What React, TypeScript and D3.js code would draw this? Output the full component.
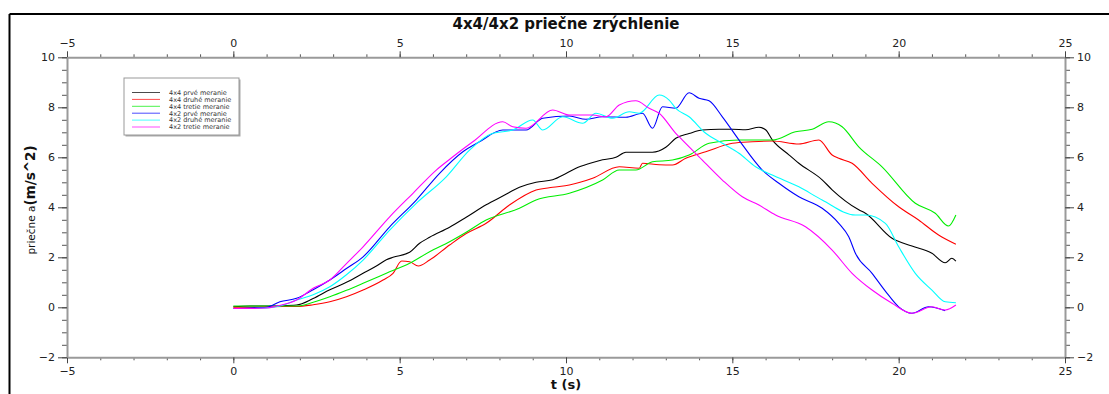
import React, { useEffect, useRef } from "react";
import * as d3 from "d3";

const W = 1109;
const H = 394;

const title = "4x4/4x2 priečne zrýchlenie";
const xLabel = "t (s)";
const yLabelA = "priečne a";
const yLabelB = "(m/s^2)";

const xMajorTicks = [-5, 0, 5, 10, 15, 20, 25];
const yMajorTicks = [-2, 0, 2, 4, 6, 8, 10];

const seriesNames = [
  "4x4 prvé meranie",
  "4x4 druhé meranie",
  "4x4 tretie meranie",
  "4x2 prvé meranie",
  "4x2 druhé meranie",
  "4x2 tretie meranie",
];
const seriesColors = ["#000000", "#ff0000", "#00ee00", "#0000ff", "#00ffff", "#ff00ff"];

const blackT = [0, 0.5, 1.0, 1.4, 1.9, 2.4, 2.9, 3.4, 3.9, 4.3, 4.6, 4.8, 5.3, 5.6, 5.9, 6.5, 7.0, 7.6, 8.1, 8.6, 9.1, 9.6, 10.0, 10.3, 10.7, 11.1, 11.5, 11.8, 12.2, 12.6, 13.0, 13.3, 13.7, 14.1, 14.6, 15.0, 15.4, 15.8, 16.0, 16.2, 16.7, 17.0, 17.7, 18.0, 18.8, 19.0, 19.8, 20.4, 21.0, 21.4, 21.6, 21.72];
const blackA = [0.02, 0.05, 0.05, 0.06, 0.09, 0.35, 0.7, 1.0, 1.36, 1.65, 1.9, 2.0, 2.2, 2.56, 2.8, 3.2, 3.6, 4.1, 4.45, 4.8, 5.0, 5.1, 5.35, 5.56, 5.75, 5.9, 6.0, 6.2, 6.2, 6.2, 6.4, 6.76, 6.95, 7.09, 7.12, 7.12, 7.1, 7.2, 7.1, 6.7, 6.1, 5.76, 5.1, 4.7, 3.9, 3.76, 2.76, 2.45, 2.16, 1.78, 1.96, 1.85];

const redT = [0, 0.5, 1.0, 1.5, 1.9, 2.4, 2.9, 3.4, 3.9, 4.5, 4.8, 5.06, 5.3, 5.56, 5.9, 6.5, 7.0, 7.6, 8.3, 9.1, 9.6, 10.1, 10.8, 11.6, 12.2, 12.3, 12.8, 13.2, 13.6, 14.2, 15.0, 15.6, 16.2, 17.0, 17.6, 18.0, 18.2, 18.6, 19.2, 20.0, 20.6, 21.2, 21.72];
const redA = [0.0, 0.0, 0.02, 0.03, 0.03, 0.1, 0.22, 0.42, 0.69, 1.09, 1.36, 1.85, 1.82, 1.65, 1.89, 2.49, 2.95, 3.36, 4.09, 4.69, 4.8, 4.89, 5.16, 5.62, 5.56, 5.76, 5.7, 5.69, 5.96, 6.22, 6.56, 6.62, 6.65, 6.53, 6.69, 6.09, 5.96, 5.76, 4.96, 4.02, 3.49, 2.89, 2.52];

const greenT = [0, 0.5, 1.0, 1.5, 1.9, 2.4, 2.9, 3.4, 3.9, 4.6, 5.3, 5.9, 6.5, 7.0, 7.6, 8.6, 9.1, 10.1, 11.1, 11.6, 12.1, 12.6, 13.2, 13.7, 14.3, 15.2, 16.2, 16.9, 17.4, 17.9, 18.3, 18.8, 19.5, 20.5, 21.1, 21.5, 21.72];
const greenA = [0.05, 0.05, 0.05, 0.05, 0.05, 0.2, 0.42, 0.68, 0.96, 1.36, 1.76, 2.22, 2.62, 3.0, 3.49, 3.96, 4.29, 4.56, 5.09, 5.49, 5.49, 5.82, 5.89, 6.09, 6.56, 6.69, 6.69, 7.02, 7.12, 7.42, 7.22, 6.42, 5.62, 4.16, 3.76, 3.25, 3.69];

const blueT = [0, 0.5, 1.0, 1.4, 1.9, 2.4, 2.9, 3.4, 3.9, 4.7, 5.5, 6.2, 6.9, 7.4, 8.1, 8.8, 9.3, 10.1, 10.6, 11.1, 11.8, 12.3, 12.6, 12.9, 13.3, 13.7, 14.0, 14.3, 14.7, 15.2, 15.9, 16.4, 17.0, 17.7, 18.2, 18.5, 18.7, 19.2, 19.6, 20.0, 20.4, 20.9, 21.4];
const blueA = [-0.05, -0.03, 0.0, 0.22, 0.36, 0.7, 1.09, 1.55, 2.02, 3.22, 4.29, 5.36, 6.22, 6.62, 7.09, 7.09, 7.56, 7.65, 7.52, 7.62, 7.6, 7.76, 7.16, 8.02, 7.96, 8.58, 8.36, 8.26, 7.62, 6.69, 5.49, 4.96, 4.42, 3.96, 3.36, 2.82, 2.16, 1.36, 0.65, 0.02, -0.24, 0.02, -0.14];

const cyanT = [0, 0.5, 1.0, 1.4, 1.9, 2.4, 2.9, 3.4, 3.9, 4.7, 5.5, 6.4, 7.1, 7.8, 8.4, 9.0, 9.3, 9.9, 10.5, 10.9, 11.4, 11.9, 12.2, 12.8, 13.1, 13.3, 13.7, 14.2, 14.7, 15.2, 15.7, 16.2, 17.0, 17.7, 18.7, 19.0, 19.6, 20.0, 20.5, 21.0, 21.4, 21.72];
const cyanA = [-0.05, -0.05, -0.03, 0.05, 0.29, 0.5, 0.82, 1.3, 1.89, 3.09, 4.16, 5.22, 6.29, 6.96, 7.09, 7.49, 7.09, 7.62, 7.36, 7.76, 7.56, 7.82, 7.76, 8.49, 8.29, 7.96, 7.62, 6.96, 6.56, 6.16, 5.62, 5.29, 4.82, 4.29, 3.69, 3.69, 3.36, 2.42, 1.36, 0.69, 0.22, 0.18];

const magentaT = [0, 0.5, 1.0, 1.3, 1.9, 2.4, 2.9, 3.4, 3.9, 4.7, 5.4, 6.1, 6.6, 7.2, 8.1, 8.4, 8.8, 9.6, 10.1, 10.8, 11.2, 11.6, 12.1, 12.5, 12.8, 13.3, 13.5, 14.0, 14.7, 15.3, 15.8, 16.3, 17.2, 18.0, 18.6, 19.2, 19.8, 20.4, 21.0, 21.4, 21.72];
const magentaA = [-0.05, -0.05, -0.03, 0.05, 0.29, 0.76, 1.09, 1.75, 2.42, 3.62, 4.56, 5.49, 6.02, 6.62, 7.42, 7.22, 7.16, 7.89, 7.69, 7.69, 7.62, 8.09, 8.26, 7.96, 7.76, 6.96, 6.69, 6.02, 5.09, 4.42, 4.09, 3.69, 3.22, 2.29, 1.36, 0.69, 0.16, -0.24, 0.02, -0.11, 0.09];

const seriesT = [blackT, redT, greenT, blueT, cyanT, magentaT];
const seriesA = [blackA, redA, greenA, blueA, cyanA, magentaA];

const PL = 67, PR = 1065, PT = 57.3, PB = 357.3;

export default function App() {
  const ref = useRef<SVGSVGElement>(null);

  useEffect(() => {
    const svg = d3.select(ref.current);
    svg.selectAll("*").remove();

    const x = d3.scaleLinear().domain([-5, 25]).range([PL, PR]);
    const y = d3.scaleLinear().domain([-2, 10]).range([PB, PT]);

    svg.append("rect").attr("x", 0).attr("y", 0).attr("width", W).attr("height", H).attr("fill", "#fff");

    // outer frame
    svg.append("line").attr("x1", 9.5).attr("x2", W + 5).attr("y1", 14).attr("y2", 14).attr("stroke", "#000").attr("stroke-width", 2);
    svg.append("line").attr("x1", 9.5).attr("x2", 9.5).attr("y1", 14).attr("y2", H + 5).attr("stroke", "#000").attr("stroke-width", 2);

    const fontFam = "'DejaVu Sans', Verdana, sans-serif";
    const xMinor = d3.range(-5, 25.01, 1);
    const yMinor = d3.range(-2, 10.01, 0.5);

    const styleAxis = (g: any) => {
      g.select(".domain").attr("stroke", "#9a9a9a").attr("stroke-width", 2);
      g.selectAll(".tick line").attr("stroke", "#444").attr("stroke-width", 1);
      g.selectAll(".tick text").attr("fill", "#222").style("font-family", fontFam).style("font-size", "11px");
    };

    const minorStyle = (g: any) => {
      g.select(".domain").remove();
      g.selectAll(".tick line").attr("stroke", "#555").attr("stroke-width", 1);
      g.selectAll(".tick text").remove();
    };
    svg.append("g").attr("transform", `translate(0,${PT})`).call(d3.axisTop(x).tickValues(xMinor).tickSize(3).tickSizeOuter(0)).call(minorStyle);
    svg.append("g").attr("transform", `translate(0,${PB})`).call(d3.axisBottom(x).tickValues(xMinor).tickSize(3).tickSizeOuter(0)).call(minorStyle);
    svg.append("g").attr("transform", `translate(${PL},0)`).call(d3.axisLeft(y).tickValues(yMinor).tickSize(5).tickSizeOuter(0)).call(minorStyle);
    svg.append("g").attr("transform", `translate(${PR},0)`).call(d3.axisRight(y).tickValues(yMinor).tickSize(5).tickSizeOuter(0)).call(minorStyle);

    svg.append("g").attr("transform", `translate(0,${PT})`).call(d3.axisTop(x).tickValues(xMajorTicks).tickSize(6).tickSizeOuter(0).tickPadding(4)).call(styleAxis);
    svg.append("g").attr("transform", `translate(0,${PB})`).call(d3.axisBottom(x).tickValues(xMajorTicks).tickSize(6).tickSizeOuter(0).tickPadding(4)).call(styleAxis);
    svg.append("g").attr("transform", `translate(${PL},0)`).call(d3.axisLeft(y).tickValues(yMajorTicks).tickSize(9).tickSizeOuter(0).tickPadding(3)).call(styleAxis);
    svg.append("g").attr("transform", `translate(${PR},0)`).call(d3.axisRight(y).tickValues(yMajorTicks).tickSize(9).tickSizeOuter(0).tickPadding(3)).call(styleAxis);

    const line = d3.line<[number, number]>().x((d) => x(d[0])).y((d) => y(d[1])).curve(d3.curveMonotoneX);
    const plot = svg.append("g");
    seriesT.forEach((ts, i) => {
      const pts: [number, number][] = ts.map((t, j) => [t, seriesA[i][j]]);
      plot.append("path").attr("d", line(pts) as string).attr("fill", "none").attr("stroke", seriesColors[i]).attr("stroke-width", 1.1).attr("stroke-linejoin", "round");
    });

    // legend
    const lg = svg.append("g");
    lg.append("rect").attr("x", 125.5).attr("y", 79.5).attr("width", 115).attr("height", 57).attr("fill", "#aaa");
    lg.append("rect").attr("x", 124).attr("y", 78).attr("width", 115).attr("height", 57).attr("fill", "#fff").attr("stroke", "#999").attr("stroke-width", 1);
    seriesNames.forEach((name, i) => {
      const yy = 92.5 + i * 6.9;
      lg.append("line").attr("x1", 132).attr("x2", 160).attr("y1", yy).attr("y2", yy).attr("stroke", seriesColors[i]).attr("stroke-width", 1).attr("opacity", 0.7);
      lg.append("text").attr("x", 169).attr("y", yy + 2.3).text(name).style("font-family", fontFam).style("font-size", "6.5px").attr("fill", "#333");
    });

    svg.append("text").attr("x", 566).attr("y", 29).attr("text-anchor", "middle").text(title)
      .style("font-family", fontFam).style("font-size", "15px").style("font-weight", "bold").attr("fill", "#111");
    svg.append("text").attr("x", 566).attr("y", 389).attr("text-anchor", "middle").text(xLabel)
      .style("font-family", fontFam).style("font-size", "13px").style("font-weight", "bold").attr("fill", "#111");
    const yl = svg.append("text").attr("transform", "translate(35,200) rotate(-90)").attr("text-anchor", "middle").attr("fill", "#111").style("font-family", fontFam);
    yl.append("tspan").text(yLabelA).style("font-size", "10.5px");
    yl.append("tspan").text(yLabelB).style("font-size", "13.5px").style("font-weight", "bold");
  }, []);

  return (
    <svg ref={ref} width={W} height={H} style={{ position: "absolute", left: 0, top: 0, display: "block" }} />
  );
}
